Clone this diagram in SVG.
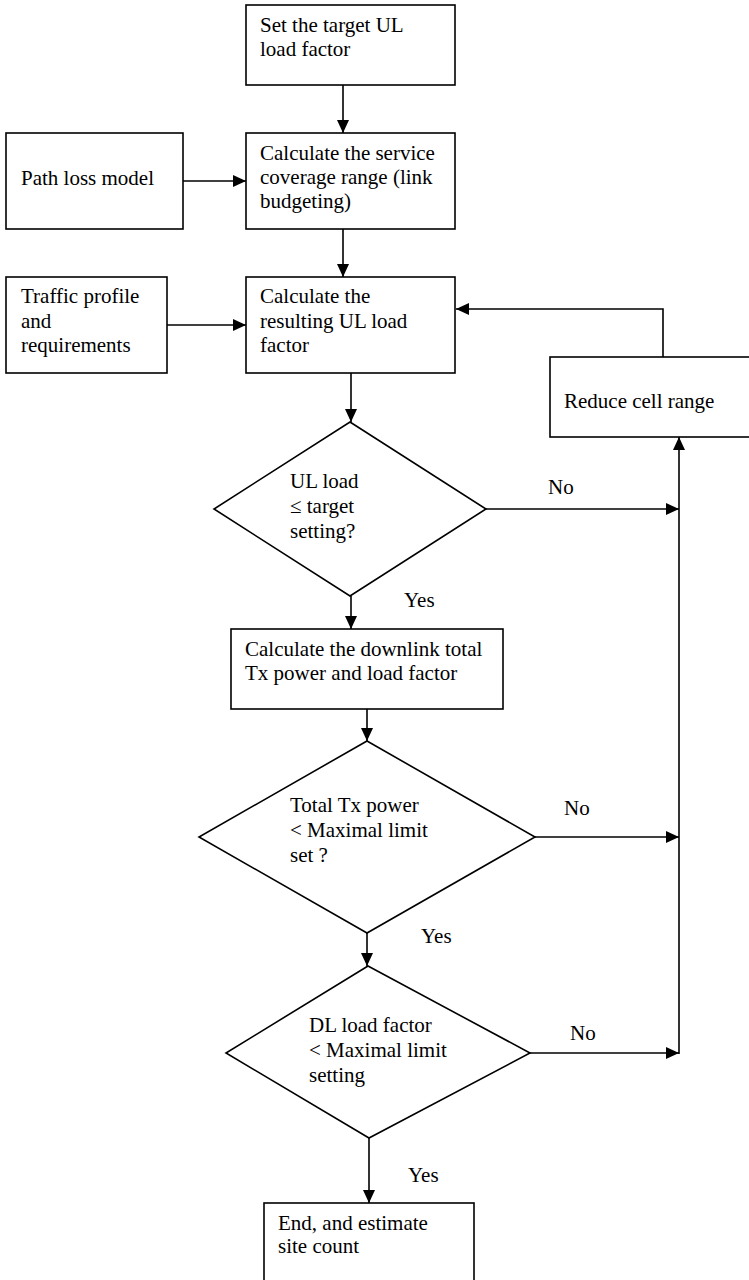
<svg xmlns="http://www.w3.org/2000/svg" width="749" height="1280" viewBox="0 0 749 1280">
  <style>
    .shape { fill: #ffffff; stroke: #000000; stroke-width: 1.6; }
    .link { fill: none; stroke: #000000; stroke-width: 1.6; }
    text { font-family: "Liberation Serif", "Times New Roman", serif; font-size: 21px; fill: #000000; }
  </style>
  <defs>
    <marker id="arrow" viewBox="0 0 13 12" refX="13" refY="6" markerWidth="13" markerHeight="12" markerUnits="userSpaceOnUse" orient="auto">
      <path d="M0,0 L13,6 L0,12 Z" fill="#000000"/>
    </marker>
  </defs>
  <rect width="749" height="1280" fill="#ffffff"/>

  <!-- connectors -->
  <g id="connectors">
    <path class="link" d="M343,85 V133" marker-end="url(#arrow)"/>
    <path class="link" d="M183,181 H246" marker-end="url(#arrow)"/>
    <path class="link" d="M343,229 V277" marker-end="url(#arrow)"/>
    <path class="link" d="M167,325 H246" marker-end="url(#arrow)"/>
    <path class="link" d="M663,357 V309 H456" marker-end="url(#arrow)"/>
    <path class="link" d="M351,373 V422" marker-end="url(#arrow)"/>
    <path class="link" d="M486,509 H679" marker-end="url(#arrow)"/>
    <path class="link" d="M679,1054 V437" marker-end="url(#arrow)"/>
    <path class="link" d="M351,596 V629" marker-end="url(#arrow)"/>
    <path class="link" d="M367,709 V741" marker-end="url(#arrow)"/>
    <path class="link" d="M535,837 H679" marker-end="url(#arrow)"/>
    <path class="link" d="M367,933 V966" marker-end="url(#arrow)"/>
    <path class="link" d="M530,1053 H679" marker-end="url(#arrow)"/>
    <path class="link" d="M369,1138 V1203" marker-end="url(#arrow)"/>
    <text x="548" y="494">No</text>
    <text x="404" y="607">Yes</text>
    <text x="564" y="815">No</text>
    <text x="421" y="943">Yes</text>
    <text x="570" y="1040">No</text>
    <text x="408" y="1182">Yes</text>
  </g>

  <g id="set-target">
    <rect class="shape" x="246" y="5" width="209" height="80"/>
    <text x="260" y="32">Set the target UL</text>
    <text x="260" y="56">load factor</text>
  </g>

  <g id="path-loss">
    <rect class="shape" x="6" y="133" width="177" height="96"/>
    <text x="21" y="185">Path loss model</text>
  </g>

  <g id="coverage">
    <rect class="shape" x="246" y="133" width="209" height="96"/>
    <text x="260" y="160">Calculate the service</text>
    <text x="260" y="184">coverage range (link</text>
    <text x="260" y="208">budgeting)</text>
  </g>

  <g id="traffic">
    <rect class="shape" x="6" y="277" width="161" height="96"/>
    <text x="21" y="303">Traffic profile</text>
    <text x="21" y="328">and</text>
    <text x="21" y="352">requirements</text>
  </g>

  <g id="ul-load">
    <rect class="shape" x="246" y="277" width="209" height="96"/>
    <text x="260" y="303">Calculate the</text>
    <text x="260" y="328">resulting UL load</text>
    <text x="260" y="352">factor</text>
  </g>

  <g id="reduce-range">
    <rect class="shape" x="550" y="357" width="210" height="80"/>
    <text x="564" y="408">Reduce cell range</text>
  </g>

  <g id="ul-check">
    <polygon class="shape" points="350,422 486,509 350,596 214,509"/>
    <text x="290" y="488">UL load</text>
    <text x="290" y="513">≤ target</text>
    <text x="290" y="538">setting?</text>
  </g>

  <g id="downlink">
    <rect class="shape" x="231" y="629" width="272" height="80"/>
    <text x="245" y="656">Calculate the downlink total</text>
    <text x="245" y="680">Tx power and load factor</text>
  </g>

  <g id="power-check">
    <polygon class="shape" points="367,741 535,837 367,933 199,837"/>
    <text x="290" y="812">Total Tx power</text>
    <text x="290" y="837">&lt; Maximal limit</text>
    <text x="290" y="862">set ?</text>
  </g>

  <g id="dl-check">
    <polygon class="shape" points="368,966 530,1053 369,1138 226,1053"/>
    <text x="309" y="1032">DL load factor</text>
    <text x="309" y="1057">&lt; Maximal limit</text>
    <text x="309" y="1082">setting</text>
  </g>

  <g id="end">
    <rect class="shape" x="264" y="1203" width="210" height="90"/>
    <text x="278" y="1230">End, and estimate</text>
    <text x="278" y="1253">site count</text>
  </g>
</svg>
